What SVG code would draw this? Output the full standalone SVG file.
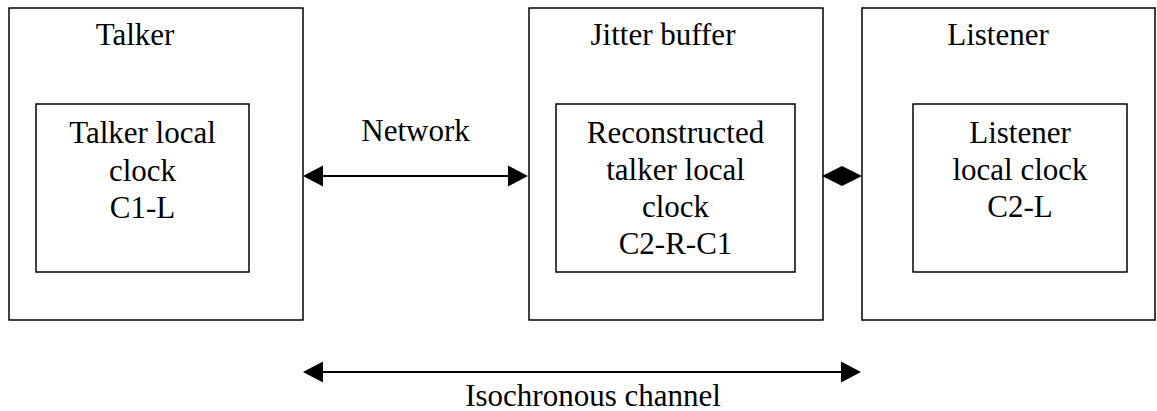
<svg xmlns="http://www.w3.org/2000/svg" width="1157" height="411" viewBox="0 0 1157 411">
<style>
.box{fill:#fff;stroke:#000;stroke-width:1.5}
.t{font-family:"Liberation Serif","Times New Roman",serif;font-size:31px;fill:#000;text-anchor:middle}
.ln{stroke:#000;stroke-width:2;fill:none}
.hd{fill:#000;stroke:none}
</style>
<rect width="1157" height="411" fill="#fff"/>
<g id="talker">
<rect class="box" x="9" y="8" width="294" height="312"/>
<text class="t" x="135" y="45">Talker</text>
<rect class="box" x="36" y="104" width="213" height="168"/>
<text class="t" x="142.5" y="143">Talker local</text>
<text class="t" x="142.5" y="180.5">clock</text>
<text class="t" x="142.5" y="218">C1-L</text>
</g>
<g id="jitter">
<rect class="box" x="529" y="8" width="294" height="312"/>
<text class="t" x="663" y="45">Jitter buffer</text>
<rect class="box" x="556" y="104" width="239" height="168"/>
<text class="t" x="675.5" y="143">Reconstructed</text>
<text class="t" x="675.5" y="180">talker local</text>
<text class="t" x="675.5" y="217">clock</text>
<text class="t" x="675.5" y="254">C2-R-C1</text>
</g>
<g id="listener">
<rect class="box" x="862" y="8" width="293" height="312"/>
<text class="t" x="998" y="45">Listener</text>
<rect class="box" x="913" y="104" width="214" height="168"/>
<text class="t" x="1020" y="143">Listener</text>
<text class="t" x="1020" y="180">local clock</text>
<text class="t" x="1020" y="217">C2-L</text>
</g>
<g id="connectors">
<line class="ln" x1="320" y1="176" x2="511" y2="176"/>
<polygon class="hd" points="303,176 323,165.5 323,186.5"/>
<polygon class="hd" points="528,176 508,165.5 508,186.5"/>
<text class="t" x="415.5" y="141">Network</text>
<polygon class="hd" points="822,176 842,166 862,176 842,186"/>
<line class="ln" x1="320" y1="372" x2="844" y2="372"/>
<polygon class="hd" points="303,372 323,361.5 323,382.5"/>
<polygon class="hd" points="861,372 841,361.5 841,382.5"/>
<text class="t" x="593" y="406">Isochronous channel</text>
</g>
</svg>
